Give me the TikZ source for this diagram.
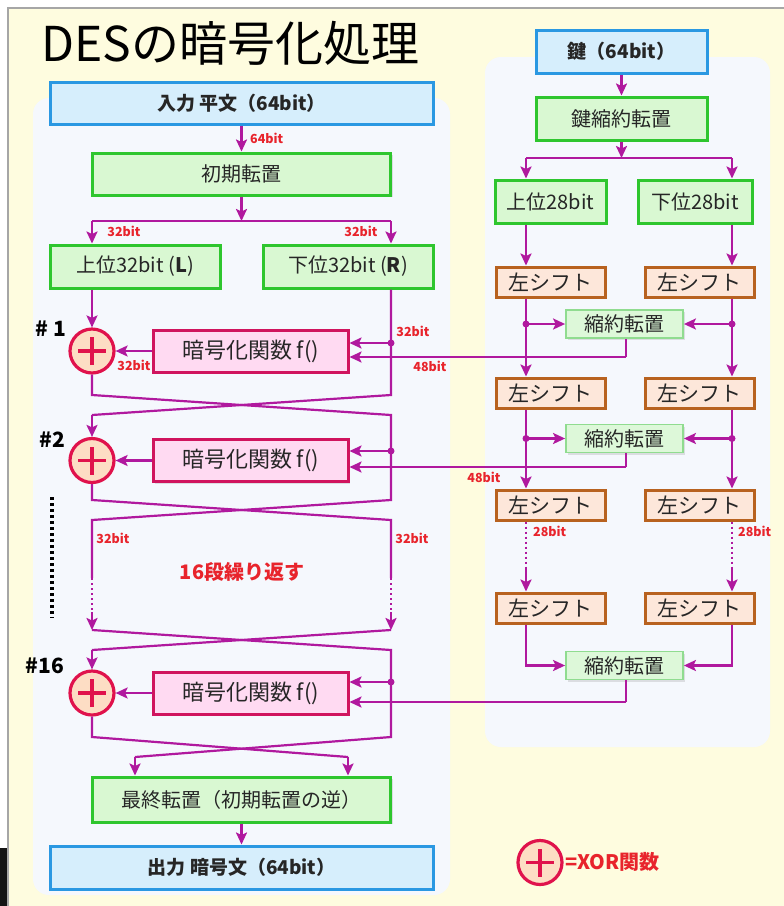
\documentclass[tikz,border=0pt]{standalone}
\usepackage{fontspec}
\setmainfont{Noto Sans CJK JP}
\usetikzlibrary{arrows.meta,shadows,calc}
\definecolor{bgy}{HTML}{FEFCDF}
\definecolor{panel}{HTML}{F5F8FD}
\definecolor{bluef}{HTML}{D6EEFC}
\definecolor{bluec}{HTML}{2A98E2}
\definecolor{greenf}{HTML}{D9F8D2}
\definecolor{greenc}{HTML}{2EC62E}
\definecolor{pcf}{HTML}{DDF8D9}
\definecolor{pcc}{HTML}{90DC90}
\definecolor{pinkf}{HTML}{FFDAF2}
\definecolor{pinkc}{HTML}{D0145E}
\definecolor{orf}{HTML}{FDE7DA}
\definecolor{orc}{HTML}{B8621F}
\definecolor{linec}{HTML}{B0199E}
\definecolor{redt}{HTML}{E8242C}
\definecolor{xorf}{HTML}{FDDDC4}
\definecolor{xorc}{HTML}{E0124C}
\newcommand\myfs[1]{\fontsize{#1}{#1}\selectfont}
\tikzset{
  box/.style={draw, line width=3pt, inner sep=0pt, text=black!85,
    drop shadow={opacity=.22, shadow xshift=2pt, shadow yshift=-2pt}},
  bluebox/.style={box, draw=bluec, fill=bluef, font=\myfs{19}\bfseries},
  greenbox/.style={box, draw=greenc, fill=greenf, font=\myfs{20}},
  fbox/.style={box, draw=pinkc, fill=pinkf, font=\myfs{22},
    minimum width=195pt, minimum height=42pt},
  shiftbox/.style={box, draw=orc, fill=orf, font=\myfs{21},
    minimum width=109pt, minimum height=30pt},
  pcbox/.style={box, line width=1.8pt, draw=pcc, fill=pcf, font=\myfs{20},
    minimum width=117pt, minimum height=28pt},
  xor/.style={circle, draw=xorc, fill=xorf, line width=3.2pt, minimum size=44pt, inner sep=0pt,
    path picture={
      \draw[xorc, line width=3.2pt] ([xshift=-14pt]path picture bounding box.center) -- ([xshift=14pt]path picture bounding box.center);
      \draw[xorc, line width=3.2pt] ([yshift=-14pt]path picture bounding box.center) -- ([yshift=14pt]path picture bounding box.center);}},
  conn/.style={draw=linec, line width=2.2pt},
  arr/.style={conn, -{Stealth[length=12pt,width=11pt,inset=2.5pt]}},
  dotl/.style={draw=linec, line width=2.2pt, dash pattern=on 2pt off 3pt},
  lbl/.style={font=\myfs{12.5}\bfseries, text=redt, inner sep=0pt},
  hash/.style={font=\myfs{21}\bfseries, inner sep=0pt},
  dot/.style={fill=linec}
}
\begin{document}
\begin{tikzpicture}[x=1pt,y=-1pt]
\useasboundingbox (0,0) rectangle (784,906);
% background
\fill[white] (0,0) rectangle (784,906);
\fill[bgy] (8,8) rectangle (784,906);
\draw[black!35, line width=2pt] (8,906) -- (8,8) -- (784,8);
\fill[black!92] (0,848) rectangle (7,906);
\path[fill=panel, rounded corners=16pt] (33,98) rectangle (450,895);
\path[fill=panel, rounded corners=16pt] (485,57) rectangle (770,747);
% title
\node[font=\myfs{48}, anchor=base west, inner sep=0pt] (title) at (41,61) {DESの暗号化処理};
% left column nodes
\node[bluebox, minimum width=383pt, minimum height=42pt] (in) at (241.5,103) {入力 平文（64bit）};
\node[greenbox, minimum width=298pt, minimum height=42pt] (ip) at (241.5,174) {初期転置};
\node[greenbox, minimum width=170pt, minimum height=43pt] (L) at (135,266.5) {上位32bit (\textbf{L})};
\node[greenbox, minimum width=170pt, minimum height=43pt] (R) at (348,266.5) {下位32bit (\textbf{R})};
\node[xor] (x1) at (92,351) {};
\node[fbox] (f1) at (250.5,351) {暗号化関数 f()};
\node[xor] (x2) at (92,460.5) {};
\node[fbox] (f2) at (250.5,460.5) {暗号化関数 f()};
\node[xor] (x16) at (92,693) {};
\node[fbox] (f16) at (250.5,693) {暗号化関数 f()};
\node[greenbox, minimum width=298pt, minimum height=45pt] (fp) at (241.5,799.5) {最終転置（初期転置の逆）};
\node[bluebox, minimum width=383pt, minimum height=43pt] (out) at (241.5,867.5) {出力 暗号文（64bit）};
% labels left
\node[hash] (h1) at (51,329) {\# 1};
\node[hash] (h2) at (52,440) {\#2};
\node[hash] (h16) at (45,666) {\#16};
\node[font=\myfs{20}\bfseries, text=redt] (rep) at (242,572) {16段繰り返す};
\draw[black, line width=3.5pt, dash pattern=on 3pt off 3pt] (52,497) -- (52,618);
% right column nodes
\node[bluebox, minimum width=171pt, minimum height=43pt] (key) at (621.5,51.5) {鍵（64bit）};
\node[greenbox, minimum width=171pt, minimum height=43pt] (kp) at (621.5,118.5) {鍵縮約転置};
\node[greenbox, minimum width=111pt, minimum height=43pt] (C0) at (550.5,201.5) {上位28bit};
\node[greenbox, minimum width=114pt, minimum height=43pt] (D0) at (695,201.5) {下位28bit};
\node[shiftbox] (s1l) at (550.5,282) {左シフト};
\node[shiftbox] (s1r) at (699.5,282) {左シフト};
\node[shiftbox] (s2l) at (550.5,393) {左シフト};
\node[shiftbox] (s2r) at (699.5,393) {左シフト};
\node[shiftbox] (s3l) at (550.5,505) {左シフト};
\node[shiftbox] (s3r) at (699.5,505) {左シフト};
\node[shiftbox] (s4l) at (550.5,608) {左シフト};
\node[shiftbox] (s4r) at (699.5,608) {左シフト};
\node[pcbox] (pc1) at (624.5,324) {縮約転置};
\node[pcbox] (pc2) at (624.5,438.5) {縮約転置};
\node[pcbox] (pc3) at (624.5,665.5) {縮約転置};
% coordinates
\coordinate (sj) at (241.5,221);
\coordinate (sl) at (92,221);
\coordinate (sr) at (391,221);
\coordinate (c1a) at (92,395); \coordinate (c1b) at (391,395);
\coordinate (c1c) at (92,415); \coordinate (c1d) at (391,415);
\coordinate (c2a) at (92,500); \coordinate (c2b) at (391,500);
\coordinate (c2c) at (92,520); \coordinate (c2d) at (391,520);
\coordinate (l3a) at (92,578); \coordinate (l3b) at (92,612);
\coordinate (r3a) at (391,578); \coordinate (r3b) at (391,612);
\coordinate (c3a) at (92,630); \coordinate (c3b) at (391,630);
\coordinate (c3c) at (92,650); \coordinate (c3d) at (391,650);
\coordinate (c4a) at (92,737); \coordinate (c4b) at (391,737);
\coordinate (fin1) at (135,757); \coordinate (fin2) at (348,757);
\coordinate (d1) at (391,343); \coordinate (d2) at (391,451); \coordinate (d16) at (391,682);
\coordinate (k1) at (626,357); \coordinate (k2) at (626,467); \coordinate (k16) at (626,702);
% left connectors
\draw[arr] (in.south) -- (ip.north);
\node[lbl, anchor=west] (l64) at (250,138) {64bit};
\draw[arr] (ip.south) -- (sj);
\draw[conn] (sl) -- (sr);
\draw[arr] (sl) -- (sl |- L.north);
\draw[arr] (sr) -- (sr |- R.north);
\node[lbl] (l32a) at (124,231) {32bit};
\node[lbl] (l32b) at (361,231) {32bit};
\draw[arr] (sl |- L.south) -- (x1.north);
\draw[conn] (sr |- R.south) -- (c1b) -- (c1c);
\draw[arr] (c1c) -- (x2.north);
\draw[conn] (x1.south) -- (c1a) -- (c1d) -- (c2b) -- (c2c) -- (l3a);
\draw[dotl] (l3a) -- (l3b);
\draw[arr] (l3b) -- (c3a);
\draw[conn] (x2.south) -- (c2a) -- (c2d) -- (r3a);
\draw[dotl] (r3a) -- (r3b);
\draw[arr] (r3b) -- (c3b);
\draw[conn] (c3b) -- (c3c);
\draw[arr] (c3c) -- (x16.north);
\draw[conn] (c3a) -- (c3d) -- (c4b) -- (fin1);
\draw[arr] (fin1) -- (fin1 |- fp.north);
\draw[conn] (x16.south) -- (c4a) -- (fin2);
\draw[arr] (fin2) -- (fin2 |- fp.north);
\draw[arr] (fp.south) -- (out.north);
\node[lbl] (l32c) at (113,538) {32bit};
\node[lbl] (l32d) at (412,538) {32bit};
% f inputs / outputs
\fill[dot] (d1) circle (3.5pt);
\fill[dot] (d2) circle (3.5pt);
\fill[dot] (d16) circle (3.5pt);
\draw[arr] (d1) -- (d1 -| f1.east);
\draw[arr] (d2) -- (d2 -| f2.east);
\draw[arr] (d16) -- (d16 -| f16.east);
\draw[arr] (f1.west) -- (x1.east);
\draw[arr] (f2.west) -- (x2.east);
\draw[arr] (f16.west) -- (x16.east);
\node[lbl] (l32e) at (134,365) {32bit};
\node[lbl] (l32f) at (413,331) {32bit};
\node[lbl] (l48a) at (430,366) {48bit};
\node[lbl] (l48b) at (484,477) {48bit};
% key schedule
\draw[arr] (key.south) -- (kp.north);
\coordinate (ks) at (621.5,158);
\coordinate (ksl) at (526,158);
\coordinate (ksr) at (732,158);
\draw[arr] (kp.south) -- (ks);
\draw[conn] (ksl) -- (ksr);
\draw[arr] (ksl) -- (ksl |- C0.north);
\draw[arr] (ksr) -- (ksr |- D0.north);
\draw[arr] (ksl |- C0.south) -- (ksl |- s1l.north);
\draw[arr] (ksr |- D0.south) -- (ksr |- s1r.north);
\draw[arr] (ksl |- s1l.south) -- (ksl |- s2l.north);
\draw[arr] (ksr |- s1r.south) -- (ksr |- s2r.north);
\draw[arr] (ksl |- s2l.south) -- (ksl |- s3l.north);
\draw[arr] (ksr |- s2r.south) -- (ksr |- s3r.north);
\fill[dot] (ksl |- pc1) circle (3.5pt);
\fill[dot] (ksr |- pc1) circle (3.5pt);
\fill[dot] (ksl |- pc2) circle (3.5pt);
\fill[dot] (ksr |- pc2) circle (3.5pt);
\draw[arr] (ksl |- pc1) -- (pc1.west);
\draw[arr] (ksr |- pc1) -- (pc1.east);
\draw[arr] (ksl |- pc2) -- (pc2.west);
\draw[arr] (ksr |- pc2) -- (pc2.east);
\coordinate (m3l) at (526,567);
\coordinate (m3r) at (732,567);
\draw[dotl] (ksl |- s3l.south) -- (m3l);
\draw[dotl] (ksr |- s3r.south) -- (m3r);
\draw[arr] (m3l) -- (ksl |- s4l.north);
\draw[arr] (m3r) -- (ksr |- s4r.north);
\node[lbl, anchor=west] (l28a) at (533,531) {28bit};
\node[lbl, anchor=west] (l28b) at (738,531) {28bit};
\draw[arr] (ksl |- s4l.south) |- (pc3.west);
\draw[arr] (ksr |- s4r.south) |- (pc3.east);
% key to f
\draw[conn] (pc1.south -| k1) -- (k1);
\draw[arr] (k1) -- (k1 -| f1.east);
\draw[conn] (pc2.south -| k2) -- (k2);
\draw[arr] (k2) -- (k2 -| f2.east);
\draw[conn] (pc3.south -| k16) -- (k16);
\draw[arr] (k16) -- (k16 -| f16.east);
% legend
\node[xor] (lg) at (540,862.5) {};
\node[font=\myfs{20}\bfseries, text=redt, anchor=west, inner sep=0pt] (lgt) at (565,862) {=XOR関数};
\end{tikzpicture}
\end{document}
